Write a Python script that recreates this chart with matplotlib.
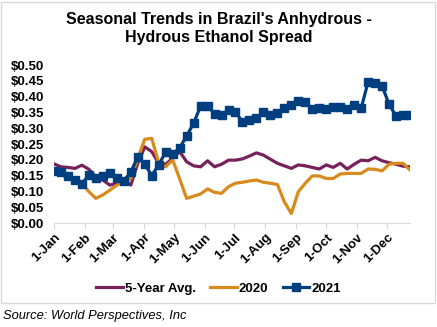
import matplotlib.pyplot as plt
import numpy as np

plt.rcParams["font.family"] = ["Liberation Sans", "DejaVu Sans"]

# Weekly values, starting 1-Jan
avg5 = [0.187, 0.178, 0.176, 0.173, 0.183, 0.170, 0.145, 0.136, 0.120, 0.126,
        0.136, 0.120, 0.189, 0.241, 0.226, 0.189, 0.186, 0.205, 0.226, 0.194,
        0.181, 0.178, 0.197, 0.178, 0.186, 0.199, 0.199, 0.203, 0.212, 0.222,
        0.215, 0.202, 0.189, 0.181, 0.173, 0.184, 0.181, 0.176, 0.171, 0.184,
        0.176, 0.189, 0.171, 0.186, 0.199, 0.197, 0.208, 0.197, 0.191, 0.186,
        0.180, 0.178]
y2020 = [0.170, 0.155, 0.141, 0.134, 0.126, 0.099, 0.078, 0.089, 0.104, 0.120,
         0.131, 0.141, 0.205, 0.265, 0.268, 0.190, 0.178, 0.200, 0.140, 0.078,
         0.085, 0.092, 0.108, 0.097, 0.094, 0.115, 0.126, 0.129, 0.133, 0.136,
         0.129, 0.126, 0.122, 0.067, 0.030, 0.099, 0.126, 0.149, 0.149, 0.141,
         0.141, 0.155, 0.157, 0.157, 0.157, 0.171, 0.170, 0.165, 0.186, 0.189,
         0.189, 0.168]
y2021 = [0.165, 0.162, 0.150, 0.136, 0.124, 0.152, 0.142, 0.149, 0.158, 0.142,
         0.134, 0.161, 0.210, 0.187, 0.150, 0.184, 0.225, 0.218, 0.238, 0.275,
         0.316, 0.370, 0.370, 0.346, 0.341, 0.358, 0.350, 0.321, 0.326, 0.333,
         0.350, 0.342, 0.347, 0.363, 0.373, 0.386, 0.382, 0.360, 0.365, 0.360,
         0.368, 0.368, 0.362, 0.373, 0.363, 0.447, 0.442, 0.434, 0.376, 0.339,
         0.342, 0.342]

month_labels = ["1-Jan", "1-Feb", "1-Mar", "1-Apr", "1-May", "1-Jun",
                "1-Jul", "1-Aug", "1-Sep", "1-Oct", "1-Nov", "1-Dec"]
month_days = [0, 31, 59, 90, 120, 151, 181, 212, 243, 273, 304, 334]

days = np.arange(len(y2021)) * 7

fig = plt.figure(figsize=(4.37, 3.27), dpi=100)
ax = fig.add_axes([0.1236, 0.318, 0.8146, 0.483])

ax.plot(days, avg5, color="#76215A", lw=2.3, label="5-Year Avg.")
ax.plot(days, y2020, color="#D88A1C", lw=2.3, label="2020")
ax.plot(days, y2021, color="#003F7F", lw=2.3, marker="s", ms=5.5,
        label="2021")

ax.set_xlim(0, days[-1])
ax.set_ylim(0, 0.5)
ax.set_yticks(np.arange(0, 0.51, 0.05))
ax.set_yticklabels(["$%.2f" % v for v in np.arange(0, 0.51, 0.05)],
                   fontsize=9.5, fontweight="bold")
ax.set_xticks(month_days)
ax.set_xticklabels(month_labels, rotation=45, ha="right",
                   rotation_mode="anchor", fontsize=9.5, fontweight="bold")
ax.tick_params(axis="y", length=0, pad=7)
ax.tick_params(axis="x", length=4, color="#D9D9D9", pad=2)
for s in ["top", "right", "left"]:
    ax.spines[s].set_visible(False)
ax.spines["bottom"].set_color("#D9D9D9")

fig.text(0.5, 0.914, "Seasonal Trends in Brazil's Anhydrous -\nHydrous Ethanol Spread",
         ha="center", va="center", fontsize=11.5, fontweight="bold",
         linespacing=1.25)

fig.legend(loc="center", bbox_to_anchor=(0.5, 0.118), ncol=3, frameon=False,
           prop={"size": 9.5, "weight": "bold"}, handlelength=2.0,
           handletextpad=0.15, columnspacing=1.1)

frame = plt.Rectangle((0.003, 0.073), 0.992, 0.922, transform=fig.transFigure,
                      fill=False, edgecolor="#D9D9D9", lw=1)
fig.add_artist(frame)
fig.text(0.008, 0.033, "Source: World Perspectives, Inc", fontsize=9.3,
         style="italic", va="center")

fig.savefig("out.png", dpi=100)
